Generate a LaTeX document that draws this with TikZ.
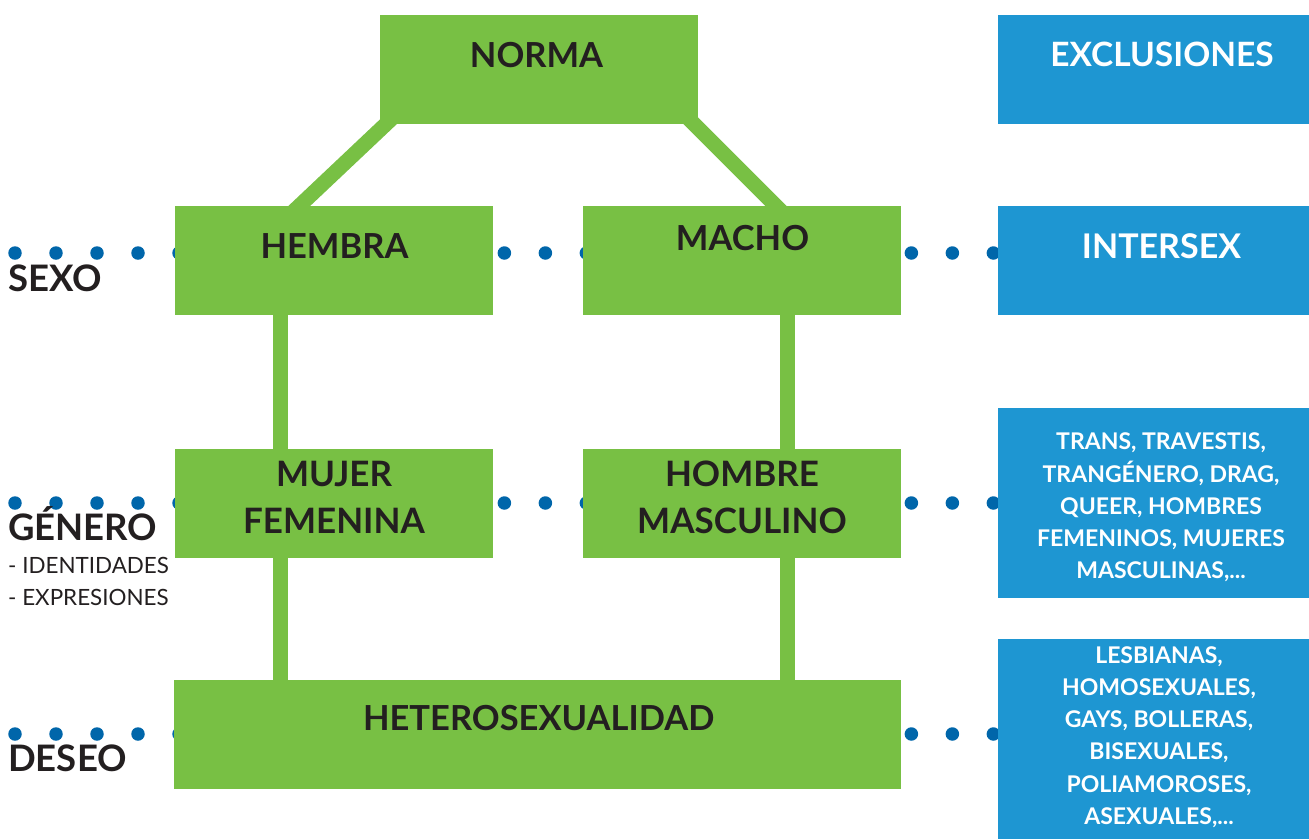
\documentclass[tikz,border=0pt]{standalone}
\usepackage{fontspec}
\setmainfont{Lato}
\usetikzlibrary{calc}
\definecolor{normagreen}{RGB}{120,192,68}
\definecolor{exclblue}{RGB}{30,150,210}
\definecolor{dotblue}{RGB}{0,102,170}
\definecolor{inkdark}{RGB}{35,31,32}
\pgfdeclarelayer{background}
\pgfsetlayers{background,main}
\tikzset{every picture/.style={line width=0.75pt}}
\tikzset{
  gbox/.style={fill=normagreen, inner sep=0pt, minimum width=318pt, minimum height=109pt},
  bbox/.style={fill=exclblue, inner sep=0pt, minimum width=311pt},
  link/.style={draw=normagreen, line width=15pt, shorten <=-12pt, shorten >=-12pt},
  dotrow/.style={draw=dotblue, line width=13.5pt, line cap=round, dash pattern=on 0pt off 41pt},
  head/.style={text=inkdark, inner sep=0pt, font=\fontsize{34.5}{40}\selectfont\bfseries, text height=24.7pt, text depth=0pt},
  whead/.style={head, text=white},
  rowlabel/.style={text=inkdark, inner sep=0pt, anchor=west, font=\fontsize{36.5}{42}\selectfont\bfseries, text height=26.2pt, text depth=0pt},
  sidenote/.style={text=inkdark, inner sep=0pt, anchor=west, font=\fontsize{22.4}{26}\selectfont, text height=16pt, text depth=0pt},
  twoline/.style={text=inkdark, inner sep=0pt, align=center, font=\fontsize{35}{47}\selectfont\bfseries},
  wlist/.style={text=white, inner sep=0pt, align=center, font=\fontsize{23}{32.2}\selectfont\bfseries}
}
\begin{document}
\begin{tikzpicture}[x=1pt,y=-1pt]
\useasboundingbox (0,0) rectangle (1309,839);

%Shape: Rectangle (green boxes)
\node[gbox] (norma) at (539,69.5) {};
\node[gbox] (hembra) at (334,260.5) {};
\node[gbox] (macho) at (742,260.5) {};
\node[gbox] (mujer) at (334,503.5) {};
\node[gbox] (hombre) at (742,503.5) {};
\node[gbox, minimum width=727pt] (hetero) at (537.5,734.5) {};
%Shape: Rectangle (blue boxes)
\node[bbox, minimum height=109pt] (exclusiones) at (1153.5,69.5) {};
\node[bbox, minimum height=109pt] (intersex) at (1153.5,260.5) {};
\node[bbox, minimum height=190pt] (transbox) at (1153.5,503) {};
\node[bbox, minimum height=200pt] (lesbox) at (1153.5,739) {};

\coordinate (sexo0) at (15,253);
\coordinate (genero0) at (15,503);
\coordinate (deseo0) at (15,734);

\begin{pgfonlayer}{background}
%Straight Lines
\draw[link] ([xshift=6pt]norma.south west) -- ([xshift=125pt]hembra.north west);
\draw[link] ([xshift=-4pt]norma.south east) -- ([xshift=193pt]macho.north west);
\draw[link] ([xshift=-54pt]hembra.south) -- ([xshift=-54pt]mujer.north);
\draw[link] ([xshift=45pt]macho.south) -- ([xshift=45pt]hombre.north);
\draw[link] ([xshift=-54pt]mujer.south) -- ([xshift=-257.5pt]hetero.north);
\draw[link] ([xshift=45pt]hombre.south) -- ([xshift=249.5pt]hetero.north);
%Dotted rows
\draw[dotrow] (sexo0) -- ($(sexo0 -| hembra.west)+(6,0)$);
\draw[dotrow] ($(sexo0 -| hembra.east)+(11,0)$) -- ($(sexo0 -| macho.west)+(5,0)$);
\draw[dotrow] ($(sexo0 -| macho.east)+(10,0)$) -- ($(sexo0 -| intersex.west)+(-3,0)$);
\draw[dotrow] (genero0) -- ($(genero0 -| mujer.west)+(6,0)$);
\draw[dotrow] ($(genero0 -| mujer.east)+(11,0)$) -- ($(genero0 -| hombre.west)+(5,0)$);
\draw[dotrow] ($(genero0 -| hombre.east)+(10,0)$) -- ($(genero0 -| transbox.west)+(-3,0)$);
\draw[dotrow] (deseo0) -- ($(deseo0 -| hetero.west)+(6,0)$);
\draw[dotrow] ($(deseo0 -| hetero.east)+(10,0)$) -- ($(deseo0 -| lesbox.west)+(-3,0)$);
\end{pgfonlayer}

% Text Node
\node[head] (normaT) at (536.5,54.7) {NORMA};
\node[head] (hembraT) at (334.5,246) {HEMBRA};
\node[head] (machoT) at (742.5,238) {MACHO};
\node[twoline] (mujerT) at (334,497.5) {MUJER\\FEMENINA};
\node[twoline] (hombreT) at (742,497.5) {HOMBRE\\MASCULINO};
\node[head] (heteroT) at (538.7,718.5) {HETEROSEXUALIDAD};
% Text Node
\node[whead, font=\fontsize{33.5}{40}\selectfont\bfseries, text height=24pt] (exclT) at (1162,54.7) {EXCLUSIONES};
\node[whead, font=\fontsize{34}{40}\selectfont\bfseries] (intersexT) at (1161.5,246) {INTERSEX};
\node[wlist] (transT) at (1161,507.5) {TRANS, TRAVESTIS,\\TRANGÉNERO, DRAG,\\QUEER, HOMBRES\\FEMENINOS, MUJERES\\MASCULINAS,...};
\node[wlist] (lesT) at (1159,737) {LESBIANAS,\\HOMOSEXUALES,\\GAYS, BOLLERAS,\\BISEXUALES,\\POLIAMOROSES,\\ASEXUALES,...};
% Text Node
\node[rowlabel] (sexoL) at (8,278) {SEXO};
\node[rowlabel] (generoL) at (8,527) {GÉNERO};
\node[sidenote] (identL) at (8,565) {- IDENTIDADES};
\node[sidenote] (exprL) at (8,597) {- EXPRESIONES};
\node[rowlabel] (deseoL) at (8,758.5) {DESEO};

\end{tikzpicture}
\end{document}
